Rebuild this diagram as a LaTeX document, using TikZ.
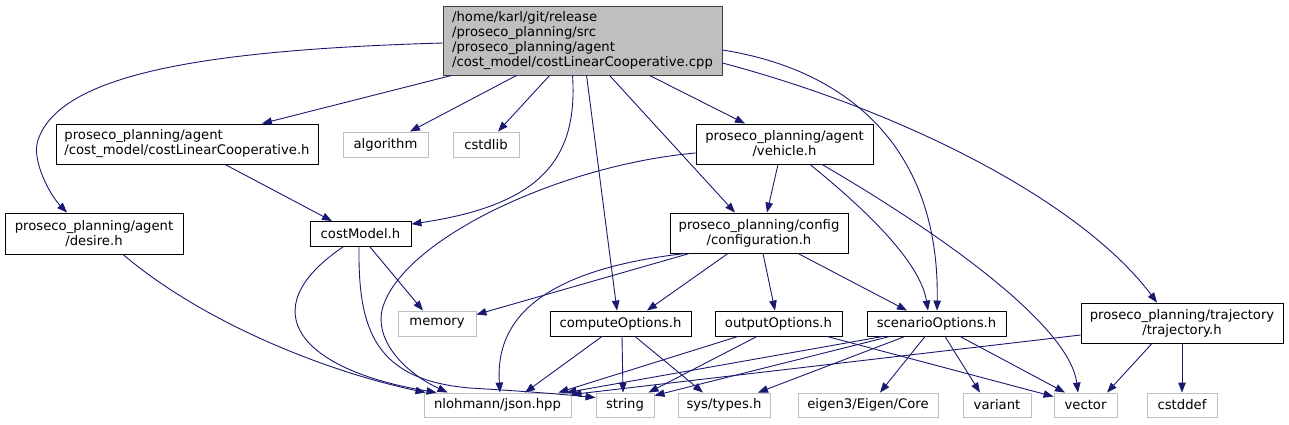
\documentclass[tikz,border=0pt]{standalone}
\usepackage{fontspec}
\setmainfont{DejaVu Sans}
\usetikzlibrary{arrows.meta}
\definecolor{edgeblue}{RGB}{25,25,112}
\definecolor{lightbd}{RGB}{191,191,191}
\definecolor{mainfill}{RGB}{191,191,191}
\definecolor{mainbd}{RGB}{64,64,64}
\tikzset{
  basebox/.style={inner sep=0pt, font=\fontsize{13.2}{15}\selectfont, line width=0.9pt},
  hdr/.style={basebox, draw=black, align=center},
  hdrl/.style={basebox, draw=black, align=left},
  sysbox/.style={basebox, draw=lightbd, align=center, minimum height=24},
  mainbox/.style={basebox, draw=mainbd, fill=mainfill, align=left},
  edge/.style={draw=edgeblue, line width=0.9pt, -{Triangle[length=10pt,width=7.5pt]}, fill=none}
}
\begin{document}
\begin{tikzpicture}[x=1pt,y=-1pt]
\useasboundingbox (0,0) rectangle (1289,424);
% nodes
\node[mainbox, minimum width=279, minimum height=69] (main) at (582.5,40.5) {/home/karl/git/release\\/proseco\_planning/src\\/proseco\_planning/agent\\/cost\_model/costLinearCooperative.cpp};
\node[hdrl, minimum width=262, minimum height=40] (clc) at (187,144) {proseco\_planning/agent\\/cost\_model/costLinearCooperative.h};
\node[sysbox, minimum width=85, minimum height=25] (algorithm) at (385.5,144.5) {algorithm};
\node[sysbox, minimum width=66, minimum height=25] (cstdlib) at (486,144.5) {cstdlib};
\node[hdr, minimum width=177, minimum height=40] (vehicle) at (784.5,144) {proseco\_planning/agent\\/vehicle.h};
\node[hdr, minimum width=178, minimum height=41] (desire) at (94,233.5) {proseco\_planning/agent\\/desire.h};
\node[hdr, minimum width=101, minimum height=25] (costModel) at (360.5,234) {costModel.h};
\node[hdr, minimum width=178, minimum height=40] (config) at (759,233) {proseco\_planning/config\\/configuration.h};
\node[sysbox, minimum width=78, minimum height=25] (memory) at (437,323.5) {memory};
\node[hdr, minimum width=141, minimum height=25] (compute) at (620.5,323.5) {computeOptions.h};
\node[hdr, minimum width=127, minimum height=25] (output) at (778.5,323.5) {outputOptions.h};
\node[hdr, minimum width=139, minimum height=25] (scenario) at (936.5,323.5) {scenarioOptions.h};
\node[hdr, minimum width=202, minimum height=40] (traj) at (1182,323) {proseco\_planning/trajectory\\/trajectory.h};
\node[sysbox, minimum width=147] (json) at (497.5,405) {nlohmann/json.hpp};
\node[sysbox, minimum width=58] (string) at (625,405) {string};
\node[sysbox, minimum width=92] (systypes) at (724,405) {sys/types.h};
\node[sysbox, minimum width=140] (eigen) at (868,405) {eigen3/Eigen/Core};
\node[sysbox, minimum width=68] (variant) at (997,405) {variant};
\node[sysbox, minimum width=63] (vector) at (1085.5,405) {vector};
\node[sysbox, minimum width=70] (cstddef) at (1182,405) {cstddef};
% edges from main
\draw[edge] ([yshift=-2.5pt]main.west) .. controls (200,50) and (60,75) .. (38,140) .. controls (31,160) and (50,195) .. ([xshift=-27pt]desire.north);
\draw[edge] ([xshift=9pt]main.south west) -- ([xshift=75pt]clc.north);
\draw[edge] ([xshift=74pt]main.south west) -- ([xshift=24.5pt]algorithm.north);
\draw[edge] ([xshift=107pt]main.south west) -- ([xshift=12pt]cstdlib.north);
\draw[edge] ([xshift=130pt]main.south west) .. controls (578,160) and (540,205) .. ([yshift=-3pt]costModel.north east);
\draw[edge] ([xshift=144pt]main.south west) -- ([xshift=-3.5pt]compute.north);
\draw[edge] ([xshift=167pt]main.south west) -- ([xshift=-24pt]config.north);
\draw[edge] ([xshift=207pt]main.south west) -- ([xshift=-39.5pt]vehicle.north);
\draw[edge] ([yshift=-9.5pt]main.east) .. controls (850,70) and (940,150) .. ([xshift=0.5pt]scenario.north);
\draw[edge] ([yshift=-22.5pt]main.east) .. controls (900,110) and (1080,200) .. ([xshift=-25pt]traj.north);
% clc, desire, costModel
\draw[edge] ([xshift=38pt]clc.south) -- ([xshift=-28.5pt]costModel.north);
\draw[edge] ([xshift=29pt]desire.south) .. controls (200,320) and (320,370) .. ([xshift=2pt]json.north west);
\draw[edge] ([xshift=-17.5pt]costModel.south) .. controls (250,310) and (300,370) .. ([xshift=13pt]json.north west);
\draw[edge] ([xshift=-1.5pt]costModel.south) .. controls (358,330) and (375,380) .. (470,388) .. controls (520,391) and (560,394) .. ([yshift=-5pt]string.north west);
\draw[edge] ([xshift=9.5pt]costModel.south) -- ([xshift=-14pt]memory.north);
% vehicle
\draw[edge] ([yshift=-9pt]vehicle.west) .. controls (560,165) and (400,240) .. (382,310) .. controls (375,345) and (410,375) .. ([xshift=24pt]json.north west);
\draw[edge] ([xshift=-6.5pt]vehicle.south) -- ([xshift=8pt]config.north);
\draw[edge] ([xshift=25.5pt]vehicle.south) .. controls (860,205) and (920,260) .. ([xshift=-8.5pt]scenario.north);
\draw[edge] ([xshift=37.5pt]vehicle.south) .. controls (960,245) and (1070,330) .. ([xshift=-7.5pt]vector.north);
% configuration
\draw[edge] ([xshift=20pt]config.south west) -- ([yshift=-4pt]memory.north east);
\draw[edge] ([xshift=16pt]config.south west) .. controls (540,270) and (495,320) .. ([xshift=2.5pt]json.north);
\draw[edge] ([xshift=-31pt]config.south) -- ([xshift=26.5pt]compute.north);
\draw[edge] ([xshift=4pt]config.south) -- ([xshift=-3.5pt]output.north);
\draw[edge] ([xshift=39pt]config.south) -- ([xshift=-29.5pt]scenario.north);
% computeOptions
\draw[edge] ([xshift=-18.5pt]compute.south) -- ([xshift=27.5pt]json.north);
\draw[edge] ([xshift=1.5pt]compute.south) -- ([xshift=-2pt]string.north);
\draw[edge] ([xshift=14.5pt]compute.south) -- ([xshift=-21pt]systypes.north);
% outputOptions
\draw[edge] ([xshift=-40.5pt]output.south) -- ([xshift=-13pt]json.north east);
\draw[edge] ([xshift=-21.5pt]output.south) -- ([xshift=-6pt]string.north east);
\draw[edge] ([xshift=48.5pt]output.south) -- ([yshift=-4pt]vector.north west);
% scenarioOptions
\draw[edge] ([xshift=-53.5pt]scenario.south) -- ([xshift=-5pt]json.north east);
\draw[edge] ([xshift=-46.5pt]scenario.south) -- ([yshift=-3pt]string.north east);
\draw[edge] ([xshift=-31.5pt]scenario.south) -- ([xshift=34pt]systypes.north);
\draw[edge] ([xshift=-11.5pt]scenario.south) -- ([xshift=12pt]eigen.north);
\draw[edge] ([xshift=8.5pt]scenario.south) -- ([xshift=-17pt]variant.north);
\draw[edge] ([xshift=23.5pt]scenario.south) -- ([xshift=-20.5pt]vector.north);
% trajectory
\draw[edge] ([yshift=-12pt]traj.west) -- ([yshift=-2pt]json.north east);
\draw[edge] ([xshift=-30pt]traj.south) -- ([xshift=21.5pt]vector.north);
\draw[edge] (traj.south) -- (cstddef.north);
\end{tikzpicture}
\end{document}
